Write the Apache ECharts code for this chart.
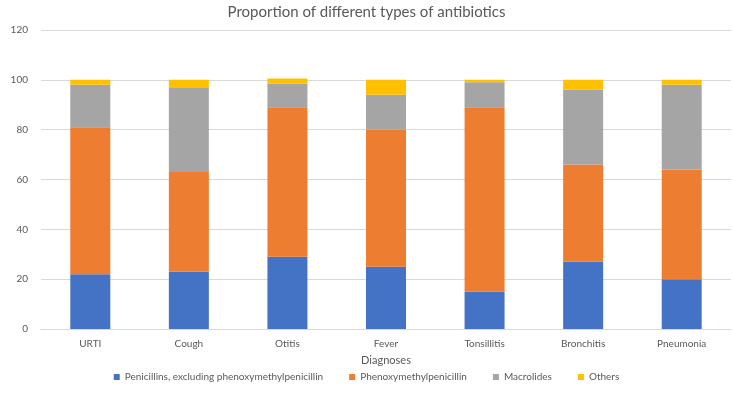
<!DOCTYPE html>
<html>
<head>
<meta charset="utf-8">
<script src="https://cdn.jsdelivr.net/npm/echarts@6/dist/echarts.min.js"></script>
<style>
  html, body { margin: 0; padding: 0; background: #fff; }
  #main { width: 733px; height: 397px; }
</style>
</head>
<body>
<div id="main"></div>
<script>
// diagnoses on the x axis
const diagnoses = ["URTI", "Cough", "Otitis", "Fever", "Tonsillitis", "Bronchitis", "Pneumonia"];
// percent per antibiotic type
const penicillinsExcl = [22, 23, 29, 25, 15, 27, 20];
const phenoxymethyl = [59, 40, 60, 55, 74, 39, 44];
const macrolides = [17, 34, 9.5, 14, 10, 30, 34];
const others = [2, 3, 2, 6, 1, 4, 2];
const yTicks = [0, 20, 40, 60, 80, 100, 120];

const font = "Lato, 'Open Sans', sans-serif";
const textGrey = "#595959";

let myChart = echarts.init(document.getElementById("main"));

function bar(name, data, color) {
  return {
    name: name,
    type: "bar",
    stack: "total",
    barWidth: 40,
    data: data,
    itemStyle: { color: color },
  };
}

let option = {
  animation: false,
  textStyle: { fontFamily: font },
  title: {
    text: "Proportion of different types of antibiotics",
    left: "center",
    top: 0,
    textStyle: { fontSize: 15, fontWeight: "normal", color: textGrey, fontFamily: font },
  },
  grid: { left: 41, right: 2, top: 30, bottom: 68, outerBoundsMode: "none", containLabel: false },
  legend: {
    bottom: 10,
    left: "center",
    itemWidth: 6,
    itemHeight: 6,
    itemGap: 26,
    icon: "rect",
    textStyle: { fontSize: 10, color: textGrey, fontFamily: font },
    data: ["Penicillins, excluding phenoxymethylpenicillin", "Phenoxymethylpenicillin", "Macrolides", "Others"],
  },
  xAxis: {
    type: "category",
    data: diagnoses,
    name: "Diagnoses",
    nameLocation: "middle",
    nameGap: 26,
    nameTextStyle: { fontSize: 11, color: textGrey },
    axisLine: { lineStyle: { color: "#d9d9d9" } },
    axisTick: { show: false },
    axisLabel: { fontSize: 10, color: textGrey, margin: 10 },
  },
  yAxis: {
    type: "value",
    min: yTicks[0],
    max: yTicks[yTicks.length - 1],
    interval: 20,
    name: "Percent",
    nameLocation: "middle",
    nameGap: 33,
    nameTextStyle: { fontSize: 10, color: textGrey },
    axisLabel: { fontSize: 10, color: textGrey, margin: 13 },
    splitLine: { lineStyle: { color: "#d9d9d9" } },
  },
  series: [
    bar("Penicillins, excluding phenoxymethylpenicillin", penicillinsExcl, "#4472C4"),
    bar("Phenoxymethylpenicillin", phenoxymethyl, "#ED7D31"),
    bar("Macrolides", macrolides, "#A5A5A5"),
    bar("Others", others, "#FFC000"),
  ],
};

myChart.setOption(option);
</script>
</body>
</html>
